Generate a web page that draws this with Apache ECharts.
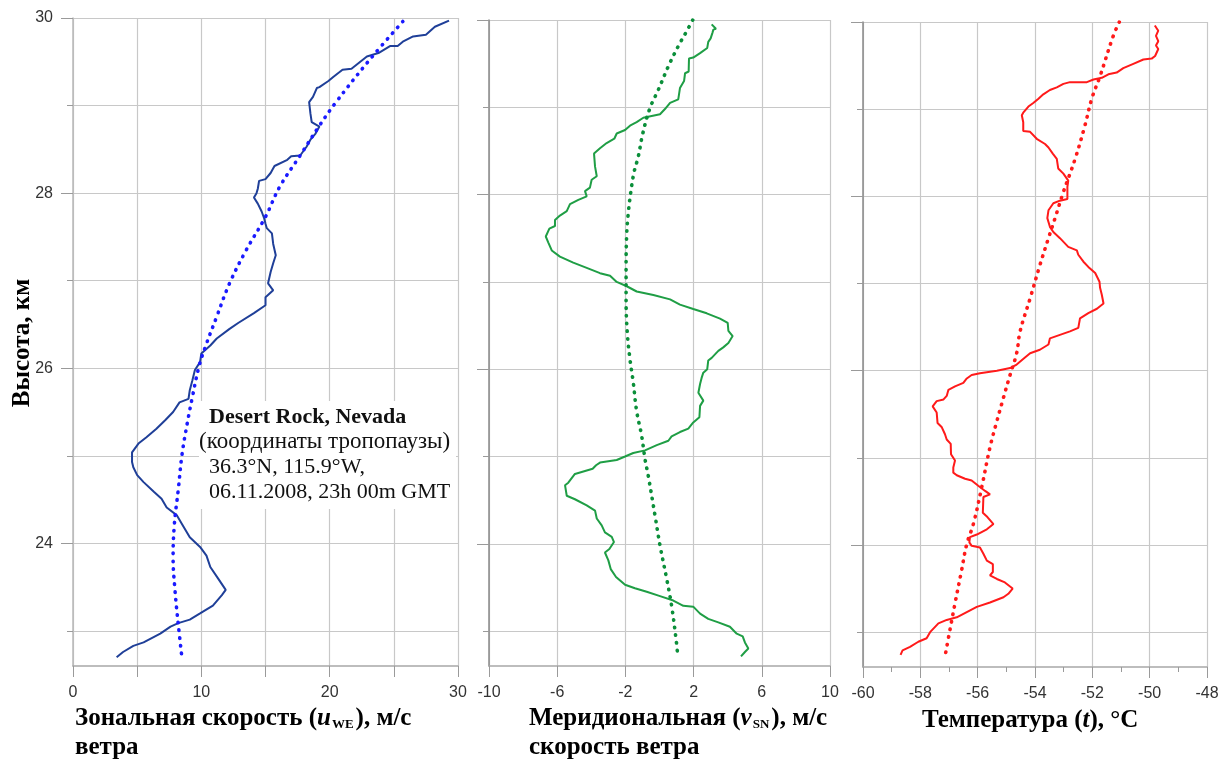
<!DOCTYPE html>
<html><head><meta charset="utf-8">
<script src="https://cdn.jsdelivr.net/npm/echarts@6/dist/echarts.min.js"></script>
<style>html,body{margin:0;padding:0;background:#fff}#c{width:1227px;height:764px}</style>
</head><body><div id="c"></div>
<script>
// Panel 1: zonal wind speed (m/s) vs height (km)
const uHeight=[29.97,29.90,29.81,29.79,29.73,29.68,29.68,29.60,29.56,29.42,29.41,29.33,29.28,29.21,29.20,29.10,29.04,28.91,28.81,28.76,28.68,28.61,28.53,28.43,28.42,28.38,28.31,28.23,28.16,28.14,28.05,28.00,27.95,27.88,27.79,27.71,27.65,27.60,27.54,27.42,27.29,27.20,27.10,26.97,26.89,26.81,26.72,26.63,26.52,26.45,26.34,26.26,26.17,26.07,25.98,25.86,25.75,25.65,25.61,25.50,25.41,25.31,25.21,25.14,25.04,24.93,24.87,24.78,24.70,24.59,24.51,24.41,24.32,24.22,24.07,23.96,23.86,23.73,23.60,23.47,23.41,23.29,23.20,23.13,23.09,23.05,22.97,22.87,22.83,22.76,22.70];
const uSpeed=[29.3,28.2,27.5,26.5,25.7,25.3,24.7,23.8,22.9,21.7,21.0,20.3,19.9,19.2,19.0,18.7,18.4,18.5,18.6,19.2,18.9,18.5,18.2,17.7,17.0,16.7,15.7,15.4,15.0,14.5,14.4,14.3,14.1,14.4,14.7,14.9,15.0,15.1,15.5,15.6,15.8,15.6,15.4,15.2,15.6,15.0,15.0,14.1,12.9,12.2,11.2,10.7,10.0,9.9,9.5,9.3,9.1,9.0,8.3,7.8,7.2,6.5,5.7,5.1,4.6,4.6,4.7,5.0,5.5,6.3,6.9,7.3,8.1,8.5,9.1,9.9,10.4,10.7,11.3,11.9,11.6,10.9,9.9,9.1,8.2,7.6,6.8,5.5,4.7,3.9,3.4];
const uFitHeight=[29.96,29.52,29.02,28.77,28.43,28.07,27.73,27.35,26.97,26.59,26.24,26.01,25.67,25.37,25.02,24.61,24.22,23.84,23.46,23.08,22.68];
const uFitSpeed=[25.7,23.1,20.4,19.2,17.7,16.1,15.0,13.5,12.2,11.2,10.3,9.8,9.3,8.9,8.5,8.2,7.9,7.8,7.95,8.2,8.5];

// Panel 2: meridional wind speed (m/s)
const vHeight=[29.95,29.90,29.89,29.85,29.79,29.75,29.68,29.62,29.57,29.56,29.41,29.39,29.30,29.22,29.09,29.05,28.98,28.92,28.90,28.88,28.83,28.79,28.74,28.70,28.64,28.59,28.53,28.47,28.32,28.21,28.17,28.08,28.04,27.98,27.94,27.89,27.81,27.76,27.71,27.64,27.61,27.52,27.45,27.36,27.29,27.22,27.16,27.10,27.07,27.00,26.95,26.89,26.85,26.80,26.74,26.69,26.64,26.58,26.53,26.44,26.38,26.30,26.25,26.21,26.13,26.10,26.00,25.96,25.90,25.83,25.73,25.64,25.58,25.45,25.39,25.32,25.28,25.23,25.18,25.13,25.07,25.04,25.00,24.96,24.93,24.90,24.86,24.80,24.70,24.67,24.55,24.51,24.44,24.38,24.29,24.21,24.13,24.08,24.02,23.94,23.90,23.81,23.71,23.62,23.53,23.49,23.45,23.40,23.35,23.29,23.28,23.20,23.14,23.10,23.05,22.97,22.94,22.87,22.80,22.76,22.71];
const vSpeed=[3.06,3.31,3.16,3.10,3.00,2.86,2.80,2.38,1.98,1.73,1.71,1.50,1.44,1.20,1.10,0.62,0.32,0.03,-0.46,-0.95,-1.34,-1.73,-2.02,-2.51,-2.65,-3.10,-3.49,-3.84,-3.78,-3.68,-3.98,-4.08,-4.37,-4.27,-4.76,-5.25,-5.44,-5.84,-6.13,-6.13,-6.46,-6.67,-6.52,-6.32,-5.84,-5.06,-4.27,-3.49,-2.90,-2.51,-1.92,-1.34,-0.36,0.62,1.20,1.98,2.77,3.55,4.00,4.04,4.29,4.04,3.74,3.45,3.06,2.86,2.80,2.57,2.47,2.38,2.28,2.57,2.38,2.34,1.98,1.69,1.20,0.71,0.52,-0.16,-0.85,-1.54,-2.02,-2.51,-3.49,-3.72,-3.92,-4.96,-5.35,-5.54,-5.44,-4.96,-4.27,-3.78,-3.68,-3.39,-3.20,-2.80,-2.67,-2.94,-3.20,-3.00,-2.86,-2.55,-2.02,-1.44,-0.75,0.03,0.81,1.40,1.98,2.38,2.86,3.45,4.13,4.53,4.88,5.01,5.21,5.01,4.78];
const vFitHeight=[30.00,29.87,29.70,29.47,29.20,28.99,28.70,28.44,28.25,28.02,27.79,27.56,27.18,26.80,26.42,26.11,25.85,25.52,25.24,24.97,24.78,24.32,23.98,23.60,23.29,22.91,22.72];
const vFitSpeed=[1.95,1.59,1.10,0.52,-0.07,-0.56,-0.98,-1.24,-1.50,-1.69,-1.83,-1.92,-1.96,-1.96,-1.89,-1.73,-1.54,-1.34,-1.05,-0.85,-0.66,-0.26,0.03,0.42,0.71,0.97,1.07];

// Panel 3: temperature (°C)
const tHeight=[29.96,29.90,29.84,29.78,29.73,29.69,29.61,29.58,29.57,29.52,29.47,29.42,29.40,29.36,29.34,29.31,29.31,29.29,29.25,29.22,29.17,29.12,29.07,29.03,28.96,28.93,28.85,28.75,28.74,28.66,28.60,28.56,28.49,28.43,28.32,28.26,28.18,28.11,27.97,27.95,27.92,27.84,27.75,27.65,27.59,27.52,27.42,27.38,27.33,27.25,27.19,27.12,27.02,26.95,26.87,26.77,26.71,26.66,26.60,26.49,26.45,26.41,26.37,26.30,26.24,26.20,26.15,26.07,26.03,26.00,25.97,25.95,25.91,25.86,25.82,25.78,25.71,25.67,25.65,25.59,25.52,25.40,25.35,25.27,25.21,25.16,25.04,24.97,24.89,24.83,24.80,24.76,24.74,24.68,24.62,24.58,24.55,24.37,24.32,24.24,24.18,24.12,24.09,24.03,23.99,23.97,23.90,23.82,23.78,23.69,23.65,23.61,23.57,23.50,23.44,23.40,23.34,23.29,23.23,23.17,23.14,23.10,23.00,22.93,22.89,22.83,22.79,22.74];
const tValue=[-49.82,-49.70,-49.78,-49.70,-49.78,-49.70,-49.81,-49.93,-50.22,-50.57,-50.92,-51.15,-51.44,-51.67,-51.96,-52.19,-52.78,-53.01,-53.24,-53.48,-53.71,-53.88,-54.06,-54.23,-54.41,-54.46,-54.41,-54.41,-54.17,-53.94,-53.65,-53.53,-53.38,-53.24,-53.19,-53.01,-52.84,-52.87,-52.87,-53.13,-53.36,-53.53,-53.57,-53.48,-53.36,-53.13,-52.84,-52.54,-52.49,-52.31,-52.14,-51.90,-51.75,-51.73,-51.67,-51.61,-51.84,-52.14,-52.43,-52.49,-52.78,-53.13,-53.48,-53.53,-53.83,-54.17,-54.35,-54.64,-54.87,-55.33,-55.92,-56.21,-56.38,-56.50,-56.79,-57.02,-57.08,-57.19,-57.43,-57.57,-57.43,-57.40,-57.25,-57.14,-57.08,-56.94,-56.93,-56.79,-56.85,-56.85,-56.73,-56.44,-56.21,-55.98,-55.74,-55.57,-55.80,-55.82,-55.66,-55.45,-55.68,-56.03,-56.27,-56.29,-56.21,-55.92,-55.80,-55.68,-55.47,-55.47,-55.57,-55.33,-55.05,-54.78,-54.93,-55.10,-55.57,-56.03,-56.38,-56.73,-57.08,-57.37,-57.66,-57.78,-58.07,-58.36,-58.62,-58.69];
const tFitHeight=[30.00,29.84,29.38,29.12,28.81,28.43,28.05,27.75,27.52,27.21,26.83,26.45,26.20,25.95,25.69,25.42,25.12,24.66,24.24,24.01,23.71,23.33,23.02,22.72];
const tFitValue=[-51.06,-51.27,-51.73,-52.02,-52.26,-52.60,-53.01,-53.30,-53.53,-53.83,-54.17,-54.52,-54.64,-54.87,-55.10,-55.33,-55.57,-55.86,-56.15,-56.38,-56.56,-56.79,-56.97,-57.14];

const heightMajorTicks=[24,26,28,30];
const heightMinorTicks=[23,25,27,29];
const heightMin=22.6, heightMax=30;

function pairs(xs, ys){ return xs.map((x,i)=>[x, ys[i]]); }

const GRID='#c8c8c8';
const TICK='#9a9a9a';
const LABEL={fontFamily:'"Liberation Sans", Arial, sans-serif', fontSize:16, color:'#333'};

function yAxes(gi, showLabels, lineColor){
  return [
    {type:'value', gridIndex:gi, position:'left', min:heightMin, max:heightMax,
     axisLine:{show:true, onZero:false, lineStyle:{color:lineColor, width:1.5}},
     axisTick:{show:true, length:12, customValues:heightMajorTicks, lineStyle:{color:TICK}},
     axisLabel:Object.assign({show:showLabels, customValues:heightMajorTicks, margin:20}, LABEL),
     splitLine:{show:true, lineStyle:{color:GRID, width:1.2}}},
    {type:'value', gridIndex:gi, position:'left', offset:0, min:heightMin, max:heightMax,
     axisLine:{show:false, onZero:false},
     axisTick:{show:true, length:6, customValues:heightMinorTicks, lineStyle:{color:TICK}},
     axisLabel:{show:false, customValues:heightMinorTicks},
     splitLine:{show:true, lineStyle:{color:GRID, width:1.2}}}
  ];
}
function xAxis(gi, min, max, interval, fmt, minor){
  const a={type:'value', gridIndex:gi, min:min, max:max, interval:interval,
    axisLine:{show:true, onZero:false, lineStyle:{color:'#a8a8a8', width:1.5}},
    axisTick:{show:true, length:11, lineStyle:{color:TICK}},
    axisLabel:Object.assign({margin:19, formatter:fmt}, LABEL),
    splitLine:{show:true, lineStyle:{color:GRID, width:1.2}}};
  if(minor){ a.minorTick={show:true, splitNumber:2, length:5, lineStyle:{color:TICK}}; }
  return a;
}
function solid(xi, yi, data, color){
  return {type:'line', xAxisIndex:xi, yAxisIndex:yi, data:data, showSymbol:false, symbol:'none',
    lineStyle:{color:color, width:2}, silent:true, animation:false};
}
function dotted(xi, yi, data, color){
  return {type:'line', xAxisIndex:xi, yAxisIndex:yi, data:data, showSymbol:false, symbol:'none', smooth:0.4,
    lineStyle:{color:color, width:3.6, type:[0.5,7.2], cap:'round'}, silent:true, animation:false};
}

const SERIF='"Liberation Serif", "Times New Roman", serif';
const TF='bold 25px '+SERIF, TFI='bold italic 25px '+SERIF, TFS='bold 13px '+SERIF;
const chart=echarts.init(document.getElementById('c'), null, {renderer:'canvas'});
chart.setOption({
  animation:false,
  backgroundColor:'#fff',
  grid:[
    {left:73, top:18, width:385, height:648},
    {left:489, top:20, width:341, height:646},
    {left:863, top:22, width:344, height:645}
  ],
  xAxis:[
    xAxis(0, 0, 30, 5, v=> (v%10===0 ? String(v) : ''), false),
    xAxis(1, -10, 10, 4, v=> String(v), false),
    xAxis(2, -60, -48, 2, v=> String(v), true)
  ],
  yAxis:[].concat(yAxes(0,true,'#b8b8b8'), yAxes(1,false,'#8a8a8a'), yAxes(2,false,'#8a8a8a')),
  series:[
    solid(0, 0, pairs(uSpeed,uHeight), '#1f3f98'),
    dotted(0, 0, pairs(uFitSpeed,uFitHeight), '#1a1aff'),
    solid(1, 2, pairs(vSpeed,vHeight), '#1f9e45'),
    dotted(1, 2, pairs(vFitSpeed,vFitHeight), '#0b8f3a'),
    solid(2, 4, pairs(tValue,tHeight), '#ff1a1a'),
    dotted(2, 4, pairs(tFitValue,tFitHeight), '#ff1a1a')
  ],
  graphic:[
    {type:'text', x:23, y:343, rotation:Math.PI/2, z:10,
     style:{text:'Высота, км', font:'bold 25px '+SERIF, fill:'#000', align:'center', verticalAlign:'middle'}},
    {type:'text', x:75, y:719, z:10,
     style:{text:'{b|Зональная скорость (}{i|u}{s|WE}{b|), м/с}', verticalAlign:'middle',
       rich:{b:{font:TF, fill:'#000'}, i:{font:TFI, fill:'#000'}, s:{font:TFS, fill:'#000', padding:[11,2,0,1]}}}},
    {type:'text', x:75, y:748, z:10,
     style:{text:'ветра', font:TF, fill:'#000', verticalAlign:'middle'}},
    {type:'text', x:529, y:719, z:10,
     style:{text:'{b|Меридиональная (}{i|v}{s|SN}{b|), м/с}', verticalAlign:'middle',
       rich:{b:{font:TF, fill:'#000'}, i:{font:TFI, fill:'#000'}, s:{font:TFS, fill:'#000', padding:[11,2,0,1]}}}},
    {type:'text', x:529, y:748, z:10,
     style:{text:'скорость ветра', font:TF, fill:'#000', verticalAlign:'middle'}},
    {type:'text', x:922, y:721, z:10,
     style:{text:'{b|Температура (}{i|t}{b|), °C}', verticalAlign:'middle',
       rich:{b:{font:TF, fill:'#000'}, i:{font:TFI, fill:'#000'}}}},
    {type:'rect', shape:{x:199, y:401, width:257, height:108}, z:20, style:{fill:'#fff'}},
    {type:'text', x:209, y:417, z:21,
     style:{text:'Desert Rock, Nevada', font:'bold 22px '+SERIF, fill:'#111', verticalAlign:'middle'}},
    {type:'text', x:199, y:442, z:21,
     style:{text:'(координаты тропопаузы)', font:'23px '+SERIF, fill:'#111', verticalAlign:'middle'}},
    {type:'text', x:209, y:467, z:21,
     style:{text:'36.3°N, 115.9°W,', font:'22px '+SERIF, fill:'#111', verticalAlign:'middle'}},
    {type:'text', x:209, y:492, z:21,
     style:{text:'06.11.2008, 23h 00m GMT', font:'22px '+SERIF, fill:'#111', verticalAlign:'middle'}}
  ]
});
</script></body></html>
